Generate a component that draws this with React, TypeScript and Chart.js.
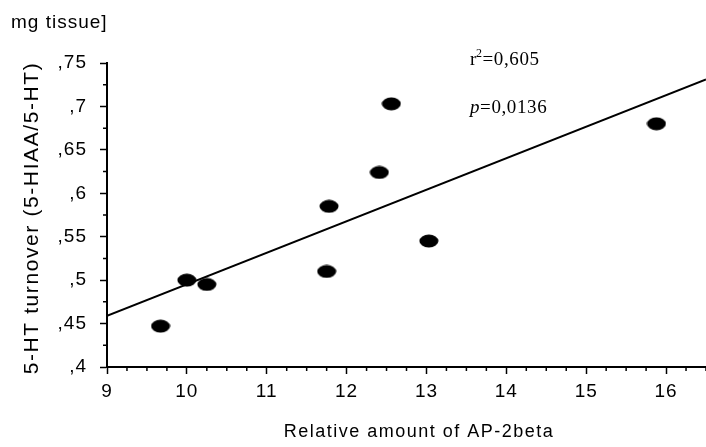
import React, { useEffect, useRef } from 'react';
import { Chart, registerables } from 'chart.js';

Chart.register(...registerables);

// Data
const apAmount = [9.67, 10.0, 10.25, 11.75, 11.78, 12.41, 12.56, 13.03, 15.88];
const turnover = [0.447, 0.5, 0.495, 0.51, 0.585, 0.624, 0.703, 0.545, 0.68];
const fitX = [9, 16.5];
const fitY = [0.459, 0.731];
const xTickValues = [9, 10, 11, 12, 13, 14, 15, 16];
const yTickValues = [0.4, 0.45, 0.5, 0.55, 0.6, 0.65, 0.7, 0.75];
const xMin = 9;
const xMax = 16.5;
const yMin = 0.4;
const yMax = 0.75;
const xMinorStep = 0.25;
const yMinorStep = 0.025;
const rSquared = '0,605';
const pValue = '0,0136';
const xTitle = 'Relative amount of AP-2beta';
const yTitle = '5-HT turnover (5-HIAA/5-HT)';
const topText = 'mg tissue]';

const SANS = "'Liberation Sans', Arial, sans-serif";
const SERIF = "'Liberation Serif', 'Times New Roman', serif";

function fmtY(v: number) {
  const s = String(+v.toFixed(3));
  return s.replace(/^0\./, ',');
}

export default function App() {
  const ref = useRef<HTMLCanvasElement | null>(null);

  useEffect(() => {
    document.body.style.margin = '0';
    const canvas = ref.current!;

    const dot = document.createElement('canvas');
    dot.width = 20;
    dot.height = 14;
    const dctx = dot.getContext('2d')!;
    dctx.fillStyle = '#000';
    dctx.beginPath();
    dctx.ellipse(10, 7, 9.5, 6.5, 0, 0, Math.PI * 2);
    dctx.fill();

    const spacingPlugin = {
      id: 'spacing',
      beforeLayout(chart: any) {
        chart.ctx.letterSpacing = '1px';
      },
      beforeDraw(chart: any) {
        chart.ctx.letterSpacing = '1px';
      },
      afterDraw(chart: any) {
        const ctx = chart.ctx as CanvasRenderingContext2D;
        const xs = chart.scales.x;
        const ys = chart.scales.y;
        ctx.save();
        ctx.strokeStyle = '#000';
        ctx.fillStyle = '#000';
        ctx.lineWidth = 1.5;
        // minor ticks
        const xAxisY = ys.getPixelForValue(yMin);
        const yAxisX = xs.getPixelForValue(xMin);
        ctx.beginPath();
        for (let v = xMin; v <= xMax + 1e-9; v += xMinorStep) {
          if (Math.abs(v - Math.round(v)) < 1e-6) continue;
          const px = xs.getPixelForValue(v);
          ctx.moveTo(px, xAxisY);
          ctx.lineTo(px, xAxisY + 4);
        }
        for (let v = yMin; v <= yMax + 1e-9; v += yMinorStep) {
          const k = Math.round(v / yMinorStep);
          if (k % 2 === 0) continue;
          const py = ys.getPixelForValue(v);
          ctx.moveTo(yAxisX, py);
          ctx.lineTo(yAxisX - 4, py);
        }
        ctx.stroke();

        // top clipped unit text
        ctx.letterSpacing = '1px';
        ctx.font = `19px ${SANS}`;
        ctx.textAlign = 'left';
        ctx.textBaseline = 'alphabetic';
        ctx.fillText(topText, 11, 28);

        // y title
        ctx.save();
        ctx.letterSpacing = '1.6px';
        ctx.translate(32, 218);
        ctx.rotate(-Math.PI / 2);
        ctx.font = `21px ${SANS}`;
        ctx.textAlign = 'center';
        ctx.textBaseline = 'middle';
        ctx.fillText(yTitle, 0, 0);
        ctx.restore();

        // x title
        ctx.letterSpacing = '1.5px';
        ctx.font = `18px ${SANS}`;
        ctx.textAlign = 'center';
        ctx.textBaseline = 'alphabetic';
        ctx.fillText(xTitle, 419, 437);

        // r^2 and p annotations
        ctx.letterSpacing = '0.6px';
        ctx.textAlign = 'left';
        let x = 470;
        ctx.font = `19px ${SERIF}`;
        ctx.fillText('r', x, 65);
        x += ctx.measureText('r').width - 1;
        ctx.font = `12px ${SERIF}`;
        ctx.fillText('2', x, 57);
        x += ctx.measureText('2').width;
        ctx.font = `19px ${SERIF}`;
        ctx.fillText('=' + rSquared, x, 65);

        x = 470;
        ctx.font = `italic 19px ${SERIF}`;
        ctx.fillText('p', x, 113);
        x += ctx.measureText('p').width;
        ctx.font = `19px ${SERIF}`;
        ctx.fillText('=' + pValue, x, 113);
        ctx.restore();
      },
    };

    const chart = new Chart(canvas, {
      type: 'scatter',
      data: {
        datasets: [
          {
            type: 'line',
            data: fitX.map((x, i) => ({ x, y: fitY[i] })),
            borderColor: '#000',
            borderWidth: 2,
            pointRadius: 0,
            pointHoverRadius: 0,
            fill: false,
            order: 2,
          } as any,
          {
            type: 'scatter',
            data: apAmount.map((x, i) => ({ x, y: turnover[i] })),
            pointStyle: dot as any,
            pointRadius: 7,
            pointHoverRadius: 7,
            backgroundColor: '#000',
            borderColor: '#000',
            order: 1,
          },
        ],
      },
      options: {
        animation: false,
        responsive: false,
        devicePixelRatio: 1,
        layout: { autoPadding: false, padding: { top: 63, left: 0, right: 0, bottom: 0 } },
        plugins: {
          legend: { display: false },
          tooltip: { enabled: false },
        },
        scales: {
          x: {
            type: 'linear',
            min: xMin,
            max: xMax,
            border: { display: true, color: '#000', width: 2 },
            grid: {
              drawOnChartArea: false,
              drawTicks: true,
              tickLength: 7,
              tickColor: '#000',
              tickWidth: 1.5,
            },
            ticks: {
              autoSkip: false,
              color: '#000',
              padding: 6,
              font: { family: SANS, size: 19 },
              maxRotation: 0,
              callback: (v: any) => String(v),
            },
            afterBuildTicks: (s: any) => {
              s.ticks = xTickValues.map((value) => ({ value }));
            },
            afterFit: (s: any) => {
              s.height = 80;
              s.paddingRight = 0;
              s.paddingLeft = 0;
            },
          },
          y: {
            type: 'linear',
            min: yMin,
            max: yMax,
            border: { display: true, color: '#000', width: 2 },
            grid: {
              drawOnChartArea: false,
              drawTicks: true,
              tickLength: 7,
              tickColor: '#000',
              tickWidth: 1.5,
            },
            ticks: {
              autoSkip: false,
              color: '#000',
              padding: 13,
              font: { family: SANS, size: 19 },
              callback: (v: any) => fmtY(Number(v)),
            },
            afterBuildTicks: (s: any) => {
              s.ticks = yTickValues.map((value) => ({ value }));
            },
            afterFit: (s: any) => {
              s.width = 107;
              s.paddingTop = 0;
              s.paddingBottom = 0;
            },
          },
        },
      },
      plugins: [spacingPlugin],
    });

    return () => chart.destroy();
  }, []);

  return (
    <div style={{ width: 706, height: 447, background: '#fff' }}>
      <canvas ref={ref} width={706} height={447} style={{ display: 'block' }} />
    </div>
  );
}
